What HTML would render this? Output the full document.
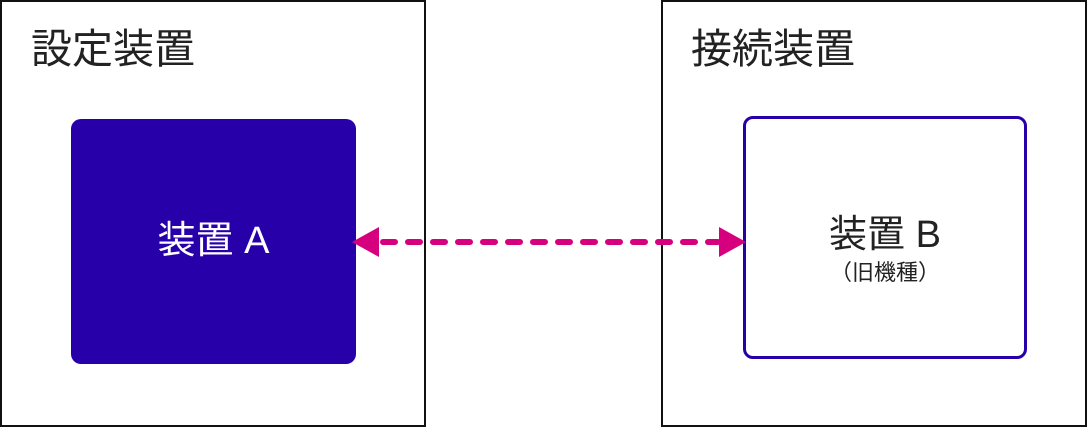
<!DOCTYPE html>
<html><head><meta charset="utf-8"><style>
html,body{margin:0;padding:0;background:#fff;}
body{width:1087px;height:427px;position:relative;overflow:hidden;font-family:"Liberation Sans","Noto Sans CJK JP",sans-serif;}
.outer{position:absolute;border:2px solid #111;box-sizing:border-box;}
.t{position:absolute;font-size:41px;color:#222;line-height:50px;}
</style></head><body>
<div class="outer" style="left:0;top:0;width:426px;height:427px;"></div>
<div class="outer" style="left:661px;top:0;width:426px;height:427px;"></div>
<div class="t" style="left:31px;top:24px;">設定装置</div>
<div class="t" style="left:691px;top:24px;">接続装置</div>
<div style="position:absolute;left:71px;top:119px;width:285px;height:245px;background:#2800aa;border-radius:10px;color:#fff;font-size:38px;text-align:center;line-height:245px;">装置 A</div>
<div style="position:absolute;left:743px;top:116px;width:284px;height:243px;border:3px solid #2800aa;box-sizing:border-box;border-radius:10px;text-align:center;color:#222;">
<div style="font-size:38px;margin-top:95px;line-height:42px;">装置 B</div>
<div style="font-size:22px;line-height:30px;margin-top:2px;">（旧機種）</div>
</div>
<svg style="position:absolute;left:0;top:0" width="1087" height="427">
<line x1="383" y1="242" x2="718" y2="242" stroke="#d6007f" stroke-width="6" stroke-linecap="round" stroke-dasharray="12 13"/>
<polygon points="352,242 379,227 379,257" fill="#d6007f"/>
<polygon points="746,242 719,227 719,257" fill="#d6007f"/>
</svg>
</body></html>
